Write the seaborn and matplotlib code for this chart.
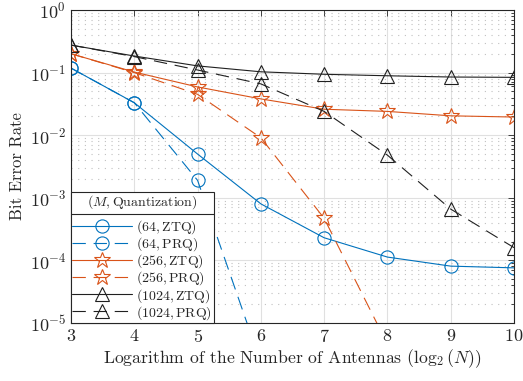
import numpy as np
import pandas as pd
import matplotlib
matplotlib.use("Agg")
import matplotlib.pyplot as plt
import matplotlib.ticker as mticker
from matplotlib.lines import Line2D
import seaborn as sns

# log2 of the number of antennas
log2_n = [3, 4, 5, 6, 7, 8, 9, 10]

# bit error rate per (M, quantization)
ber_64_ztq = [0.118, 0.033, 0.0050, 8.0e-4, 2.3e-4, 1.13e-4, 8.1e-5, 7.6e-5]
ber_64_prq = [0.118, 0.033, 0.0019, 2.3e-6, 2.0e-9, 1.0e-12, 1.0e-15, 1.0e-18]
ber_256_ztq = [0.20, 0.102, 0.059, 0.038, 0.026, 0.024, 0.0204, 0.0195]
ber_256_prq = [0.20, 0.100, 0.045, 0.0091, 4.7e-4, 4.6e-6, 4.0e-8, 4.0e-10]
ber_1024_ztq = [0.275, 0.184, 0.128, 0.103, 0.094, 0.089, 0.085, 0.084]
ber_1024_prq = [0.275, 0.180, 0.110, 0.066, 0.024, 0.0048, 6.6e-4, 1.6e-4]

series_labels = [
    r"$(64,\mathrm{ZTQ})$", r"$(64,\mathrm{PRQ})$",
    r"$(256,\mathrm{ZTQ})$", r"$(256,\mathrm{PRQ})$",
    r"$(1024,\mathrm{ZTQ})$", r"$(1024,\mathrm{PRQ})$",
]
series_values = [ber_64_ztq, ber_64_prq, ber_256_ztq, ber_256_prq,
                 ber_1024_ztq, ber_1024_prq]

blue, orange, black = "#0072BD", "#D95319", "#202020"
colors = [blue, blue, orange, orange, black, black]
marker_list = ["o", "o", "*", "*", "^", "^"]
long_dash = (12, 7)
dash_list = ["", long_dash, "", long_dash, "", long_dash]
marker_sizes = {"o": 9.5, "*": 12, "^": 10}

df = pd.DataFrame({
    "x": np.tile(log2_n, len(series_labels)),
    "ber": np.concatenate(series_values),
    "series": np.repeat(series_labels, len(log2_n)),
})

sns.set_theme(style="white")
plt.rcParams["font.family"] = ["cmr10", "DejaVu Serif"]
plt.rcParams["mathtext.fontset"] = "cm"
plt.rcParams["axes.formatter.use_mathtext"] = True

fig = plt.figure(figsize=(5.23, 3.81), dpi=100)
ax = fig.add_axes([71 / 523, 1 - 323 / 381, (514 - 71) / 523, (323 - 10) / 381])

sns.lineplot(
    data=df, x="x", y="ber", hue="series", style="series",
    hue_order=series_labels, style_order=series_labels,
    palette=dict(zip(series_labels, colors)),
    markers=dict(zip(series_labels, marker_list)),
    dashes=dict(zip(series_labels, dash_list)),
    estimator=None, sort=True, legend=False, ax=ax, linewidth=0.8,
)

for line, c, m, d in zip(ax.lines, colors, marker_list, dash_list):
    line.set_markerfacecolor("none")
    line.set_markeredgecolor(c)
    line.set_markeredgewidth(0.8)
    line.set_markersize(marker_sizes[m])
    if d:
        line.set_linestyle((0, d))

ax.set_yscale("log")
ax.set_xlim(3, 10)
ax.set_ylim(1e-5, 1)
ax.set_xticks(log2_n)
ax.yaxis.set_major_locator(mticker.LogLocator(base=10, numticks=10))
ax.yaxis.set_minor_locator(mticker.LogLocator(base=10, subs=np.arange(2, 10), numticks=20))
ax.yaxis.set_minor_formatter(mticker.NullFormatter())

ax.grid(True, which="major", color="#e0e0e0", linewidth=0.8, linestyle="-")
ax.grid(True, which="minor", axis="y", color="#c0c0c0", linewidth=0.8, linestyle=(0, (1, 5)))
ax.set_axisbelow(True)

ax.tick_params(which="both", direction="in", top=True, right=True,
               labelsize=13, colors="#262626", width=0.6)
ax.tick_params(which="major", length=4)
ax.tick_params(which="minor", length=2)
for s in ax.spines.values():
    s.set_color("#262626")
    s.set_linewidth(0.8)

ax.set_xlabel(r"Logarithm of the Number of Antennas ($\log_2(N)$)", fontsize=12.7, labelpad=2)
ax.set_ylabel("Bit Error Rate", fontsize=12, labelpad=3)

handles = [
    Line2D([], [], color=c, linestyle=("-" if d == "" else (0, d)), linewidth=0.8,
           marker=m, markerfacecolor="none", markeredgecolor=c, markeredgewidth=0.8,
           markersize=marker_sizes[m])
    for c, m, d in zip(colors, marker_list, dash_list)
]
leg = ax.legend(handles, series_labels, loc="lower left", bbox_to_anchor=(0, 0),
                borderaxespad=0, fontsize=10, handlelength=4.3, handletextpad=0.3,
                labelspacing=-0.05, borderpad=0.1, fancybox=False, framealpha=1,
                edgecolor="#262626", title=r"$(M,\mathrm{Quantization})$",
                title_fontsize=10)
leg.get_frame().set_linewidth(0.8)
leg._legend_box.sep = 5

fig.canvas.draw()
bb_leg = leg.get_window_extent()
bb_title = leg.get_title().get_window_extent()
y_sep = bb_title.y0 - 3
fig.add_artist(Line2D([bb_leg.x0, bb_leg.x1], [y_sep, y_sep],
                      transform=None, color="#262626", linewidth=0.8))

fig.savefig("out.png", dpi=100)
